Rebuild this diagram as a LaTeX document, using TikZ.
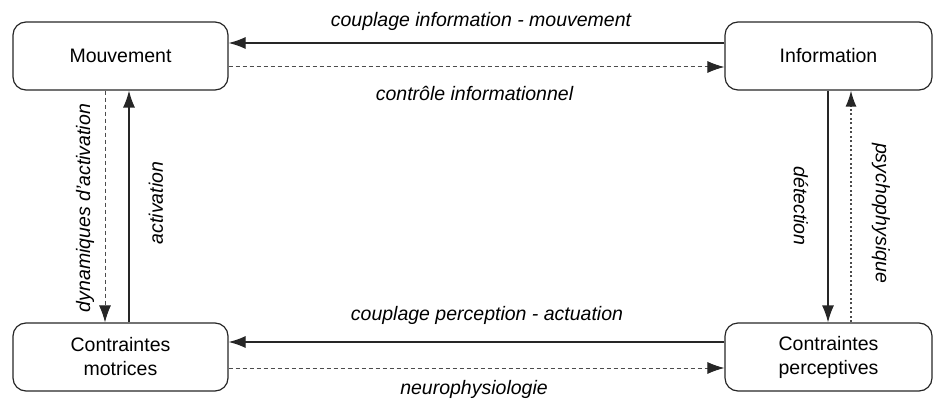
\documentclass[tikz,border=0pt]{standalone}
\usepackage{fontspec}
\setmainfont{Liberation Sans}
\usetikzlibrary{arrows.meta}

\tikzset{
 etat/.style={draw=black!85, line width=1.2pt, rounded corners=13pt,
   minimum width=215pt, minimum height=68pt, inner sep=0pt, align=center,
   font=\fontsize{19.5}{24}\selectfont},
 lien/.style={draw=black!85, line width=1.2pt, -{Latex[length=17pt,width=12pt]}},
 tirets/.style={draw=black!70, line width=1pt, dash pattern=on 4pt off 3pt,
   -{Latex[length=17pt,width=12pt,color=black!85]}},
 points/.style={draw=black!70, line width=1.4pt, dash pattern=on 2pt off 2.5pt,
   -{Latex[length=16pt,width=11pt,color=black!85]}},
 etiq/.style={font=\fontsize{19.5}{24}\selectfont\itshape, inner sep=1pt},
}

\begin{document}
\begin{tikzpicture}[x=1pt,y=-1pt]
 \useasboundingbox (0,0) rectangle (933,403);
 % les quatre etats
 \node[etat] (mouv) at (120.5,56) {Mouvement};
 \node[etat, minimum width=207pt] (info) at (828.5,56) {Information};
 \node[etat] (cmot) at (120.5,357) {Contraintes\\motrices};
 \node[etat, minimum width=207pt] (cper) at (828.5,357) {Contraintes\\perceptives};
 % liens horizontaux
 \draw[lien] ([yshift=13pt]info.west) -- ([yshift=13pt]mouv.east);
 \draw[tirets] ([yshift=-11pt]mouv.east) -- ([yshift=-11pt]info.west);
 \draw[lien] ([yshift=15pt]cper.west) -- ([yshift=15pt]cmot.east);
 \draw[tirets] ([yshift=-11pt]cmot.east) -- ([yshift=-11pt]cper.west);
 % liens verticaux
 \draw[tirets] ([xshift=-15.5pt]mouv.south) -- ([xshift=-15.5pt]cmot.north);
 \draw[lien] ([xshift=8.5pt]cmot.north) -- ([xshift=8.5pt]mouv.south);
 \draw[lien] ([xshift=-0.5pt]info.south) -- ([xshift=-0.5pt]cper.north);
 \draw[points] ([xshift=22.5pt]cper.north) -- ([xshift=22.5pt]info.south);
 % etiquettes
 \node[etiq] (cim) at (481,21) {couplage information - mouvement};
 \node[etiq] (ci) at (474.5,93) {contrôle informationnel};
 \node[etiq] (cpa) at (487,315) {couplage perception - actuation};
 \node[etiq] (np) at (474,389) {neurophysiologie};
 \node[etiq, rotate=90] (da) at (85,208) {dynamiques d'activation};
 \node[etiq, rotate=90] (act) at (156,203) {activation};
 \node[etiq, rotate=-90] (det) at (801,206) {détection};
 \node[etiq, rotate=-90] (psy) at (881,213) {psychophysique};
\end{tikzpicture}
\end{document}
